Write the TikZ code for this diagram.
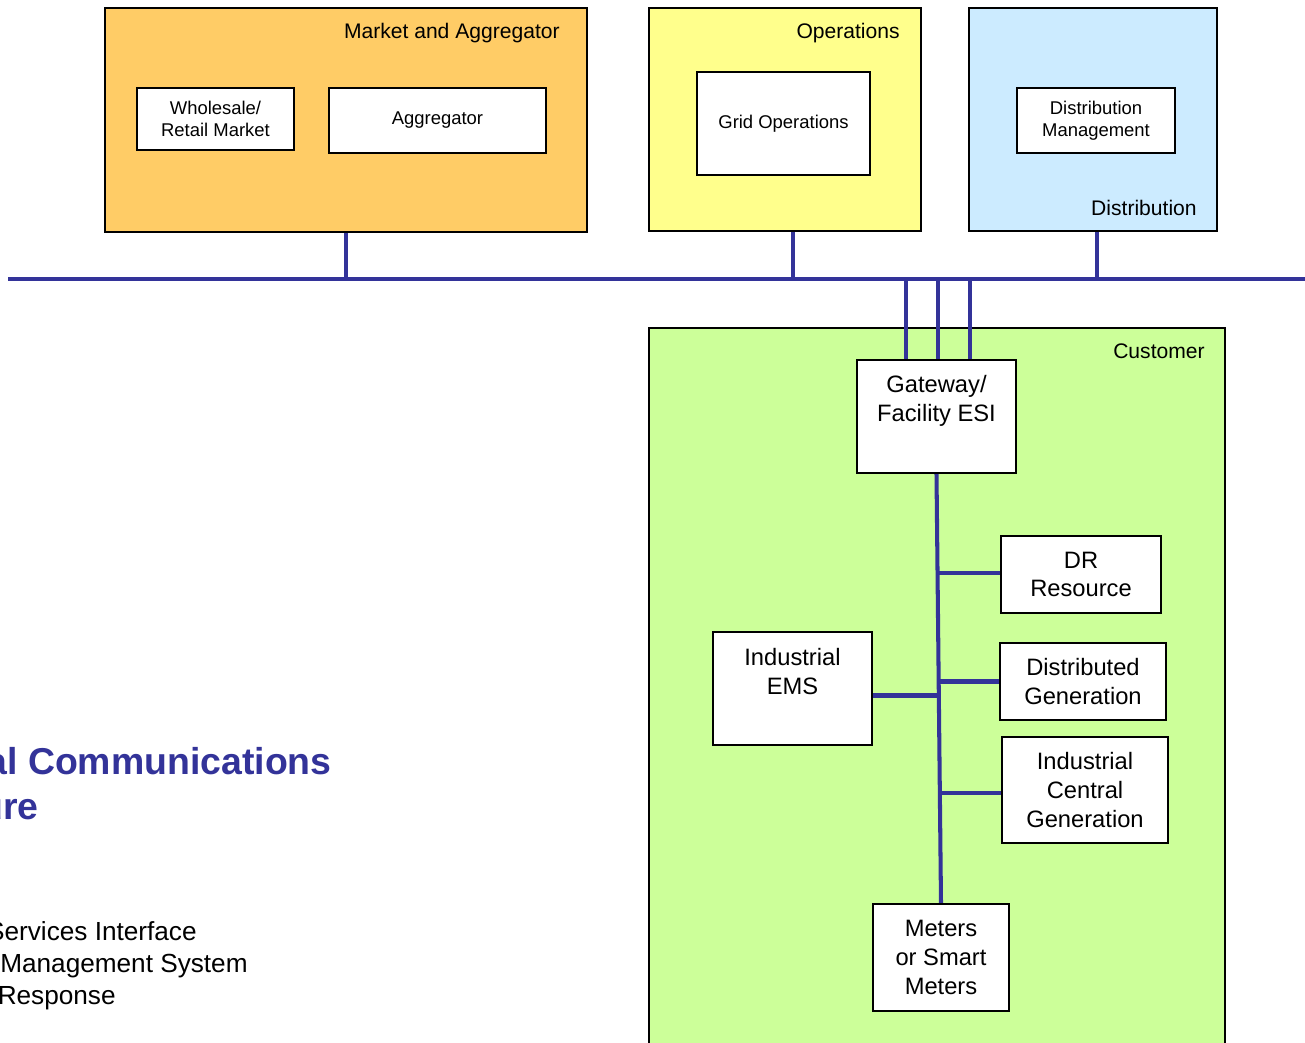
\documentclass[tikz,border=0pt]{standalone}
\usepackage{fontspec}
\setmainfont{Liberation Sans}
\definecolor{busblue}{HTML}{333399}
\definecolor{mktorange}{HTML}{FFCC66}
\definecolor{opsyellow}{HTML}{FFFF8C}
\definecolor{distblue}{HTML}{CCEBFF}
\definecolor{custgreen}{HTML}{CCFF99}
\begin{document}
\begin{tikzpicture}[x=0.02cm, y=-0.02cm,
    area/.style={draw=black, line width=1pt},
    unit/.style={draw=black, fill=white, line width=1.2pt, align=center, font=\fontsize{10.5}{12.6}\selectfont},
    cunit/.style={unit, font=\fontsize{13.5}{16.4}\selectfont},
    arealabel/.style={anchor=base east, inner sep=0pt, font=\fontsize{12}{14}\selectfont},
    sidetext/.style={anchor=base east, inner sep=0pt, font=\fontsize{14.9}{18}\selectfont},
    bus/.style={draw=busblue, line width=2.3pt}]
    \useasboundingbox (0,0) rectangle (1305,1043);
    \clip (0,0) rectangle (1305,1043);

    \node[area, fill=mktorange, minimum width=9.64cm, minimum height=4.48cm] (market) at (346,120) {};
    \node[area, fill=opsyellow, minimum width=5.44cm, minimum height=4.46cm] (ops) at (785,119.5) {};
    \node[area, fill=distblue, minimum width=4.96cm, minimum height=4.46cm] (distr) at (1093,119.5) {};
    \node[area, fill=custgreen, minimum width=11.52cm, minimum height=14.64cm] (cust) at (937,694) {};

    \node[arealabel] (marketlbl) at (560,38.6) {Market and Aggregator};
    \node[arealabel] (opslbl) at (900,38.6) {Operations};
    \node[arealabel] (distrlbl) at (1197,216) {Distribution};
    \node[arealabel] (custlbl) at (1205,358.6) {Customer};

    \node[unit, minimum width=3.14cm, minimum height=1.24cm] (whole) at (215.5,119) {Wholesale/\\Retail Market};
    \node[unit, minimum width=4.34cm, minimum height=1.30cm] (aggr) at (437.5,120.5) {Aggregator};
    \node[unit, minimum width=3.46cm, minimum height=2.06cm] (gridops) at (783.5,123.5) {Grid Operations};
    \node[unit, minimum width=3.16cm, minimum height=1.30cm] (dms) at (1096,120.5) {Distribution\\Management};

    \node[cunit, minimum width=3.18cm, minimum height=2.26cm] (gw) at (936.5,416.5) {Gateway/\\Facility ESI\\[4.5pt]~};
    \node[cunit, minimum width=3.2cm, minimum height=1.54cm] (dr) at (1081,574.5) {DR\\Resource};
    \node[cunit, minimum width=3.32cm, minimum height=1.54cm] (dg) at (1083,681.5) {Distributed\\Generation};
    \node[cunit, minimum width=3.32cm, minimum height=2.12cm] (icg) at (1085,790) {Industrial\\Central\\Generation};
    \node[cunit, minimum width=3.18cm, minimum height=2.26cm] (ems) at (792.5,688.5) {Industrial\\EMS\\[3.4pt]~};
    \node[cunit, minimum width=2.72cm, minimum height=2.14cm] (meters) at (941,957.5) {Meters\\or Smart\\Meters};

    \coordinate (busL) at (8,279);
    \coordinate (busR) at (1310,279);
    \draw[bus] (busL) -- (busR);
    \draw[bus] (market.south) -- (market.south |- busL);
    \draw[bus] ([xshift=0.16cm]ops.south) -- ([xshift=0.16cm]ops.south |- busL);
    \draw[bus] ([xshift=0.08cm]distr.south) -- ([xshift=0.08cm]distr.south |- busL);
    \foreach \dx in {-0.61, 0.03, 0.67}{
        \draw[bus] ([xshift=\dx cm]gw.north) -- ([xshift=\dx cm]gw.north |- busL);
    }
    \draw[bus] (gw.south) -- (meters.north);
    \draw[bus] ([yshift=0.03cm]dr.west) -- ([yshift=0.03cm]dr.west -| gw.south);
    \draw[bus] (dg.west) -- ([xshift=0.06cm]dg.west -| gw.south);
    \draw[bus] ([yshift=-0.06cm]icg.west) -- ([xshift=0.08cm,yshift=-0.06cm]icg.west -| gw.south);
    \draw[bus] ([yshift=-0.14cm]ems.east) -- ([xshift=0.06cm,yshift=-0.14cm]ems.east -| gw.south);

    \node[anchor=base east, inner sep=0pt, text=busblue, font=\fontsize{21.3}{25}\bfseries] (title1) at (332,774) {al Communications};
    \node[anchor=base east, inner sep=0pt, text=busblue, font=\fontsize{21.3}{25}\bfseries] (title2) at (39,819) {ure};
    \node[sidetext] (esidef) at (197,940) {Services Interface};
    \node[sidetext] (emsdef) at (248,972) {Management System};
    \node[sidetext] (drdef) at (116,1004) {Response};
\end{tikzpicture}
\end{document}
